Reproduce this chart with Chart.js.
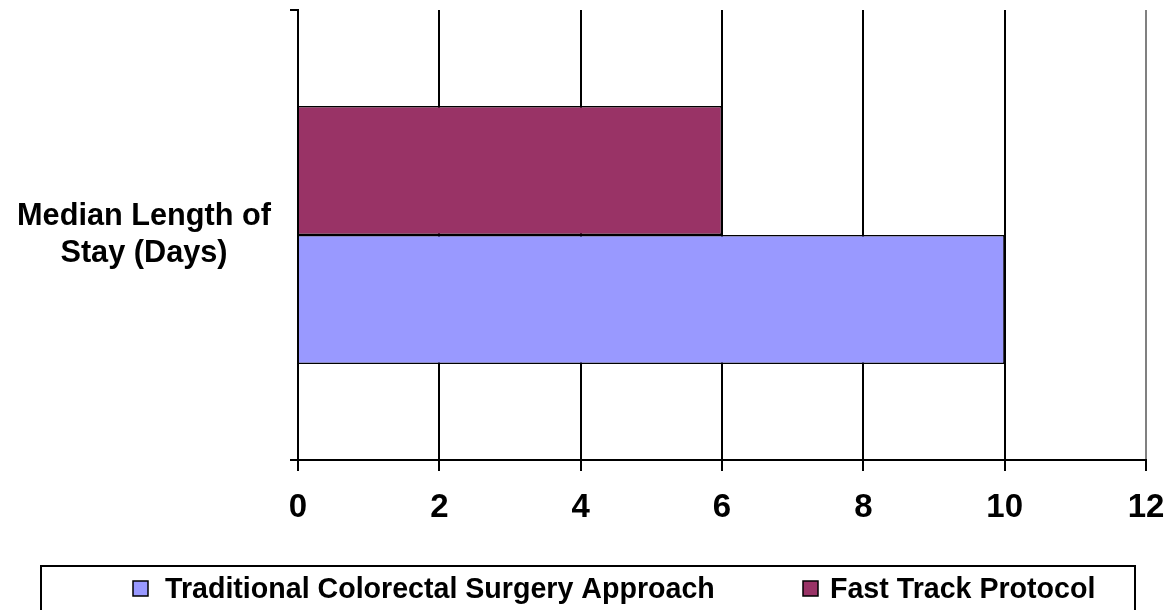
<!DOCTYPE html>
<html>
<head>
<meta charset="utf-8">
<script src="https://cdn.jsdelivr.net/npm/chart.js@4.4.1/dist/chart.umd.min.js"></script>
<style>
  html, body { margin: 0; padding: 0; background: #fff; }
</style>
</head>
<body>
<canvas id="chartStay" width="1176" height="610"></canvas>
<script>
// data
const categories = [["Median Length of", "Stay (Days)"]];
const seriesNames = ["Fast Track Protocol", "Traditional Colorectal Surgery Approach"];
const fastTrackDays = [6];
const traditionalDays = [10];
const xTickValues = [0, 2, 4, 6, 8, 10, 12];

const FONT = '"Liberation Sans", Arial, sans-serif';

// legend with a box round it, like the original
const legendBox = {
  id: "legendBox",
  afterDraw(chart) {
    const ctx = chart.ctx;
    ctx.save();
    ctx.lineWidth = 2;
    ctx.strokeStyle = "#000";
    ctx.strokeRect(41, 566, 1094, 60);

    ctx.font = "bold 28.6px " + FONT;
    ctx.textBaseline = "alphabetic";
    const items = [
      { ds: 1, box: 133, text: 165 },
      { ds: 0, box: 803, text: 830 }
    ];
    items.forEach(it => {
      const ds = chart.data.datasets[it.ds];
      ctx.fillStyle = ds.backgroundColor;
      ctx.fillRect(it.box, 581, 15, 15);
      ctx.lineWidth = 1.5;
      ctx.strokeStyle = "#000";
      ctx.strokeRect(it.box, 581, 15, 15);
      ctx.fillStyle = "#000";
      ctx.fillText(ds.label, it.text, 598);
    });
    ctx.restore();
  }
};

const ctx = document.getElementById("chartStay").getContext("2d");
new Chart(ctx, {
  type: "bar",
  data: {
    labels: categories,
    datasets: [
      {
        label: seriesNames[0],
        data: fastTrackDays,
        backgroundColor: "#993366",
        borderColor: "#000",
        borderWidth: 1.5
      },
      {
        label: seriesNames[1],
        data: traditionalDays,
        backgroundColor: "#9999FF",
        borderColor: "#000",
        borderWidth: 1.5
      }
    ]
  },
  options: {
    indexAxis: "y",
    responsive: false,
    animation: false,
    categoryPercentage: 0.573,
    barPercentage: 1,
    layout: { padding: { top: 10, right: 30, left: 0, bottom: 0 } },
    plugins: {
      legend: { display: false },
      tooltip: { enabled: false }
    },
    scales: {
      x: {
        min: 0,
        max: 12,
        afterBuildTicks: scale => { scale.ticks = xTickValues.map(v => ({ value: v })); },
        afterFit: scale => {
          scale.height = 150;
          scale.paddingLeft = 0;
          scale.paddingRight = 0;
        },
        border: { color: "#000", width: 2 },
        grid: {
          color: c => (c.tick && c.tick.value === 12 ? "#808080" : "#000"),
          lineWidth: 2,
          tickLength: 11,
          tickColor: "#000"
        },
        ticks: {
          color: "#000",
          padding: 17,
          maxRotation: 0,
          font: { family: FONT, size: 33, weight: "bold" }
        }
      },
      y: {
        afterFit: scale => {
          scale.width = 298;
          scale.paddingTop = 0;
          scale.paddingBottom = 0;
        },
        border: { color: "#000", width: 2 },
        grid: {
          drawOnChartArea: false,
          tickLength: 8,
          tickColor: "#000",
          lineWidth: 2
        },
        ticks: {
          color: "#000",
          crossAlign: "center",
          padding: 19,
          font: { family: FONT, size: 30.7, weight: "bold", lineHeight: 1.18 }
        }
      }
    }
  },
  plugins: [legendBox]
});
</script>
</body>
</html>
